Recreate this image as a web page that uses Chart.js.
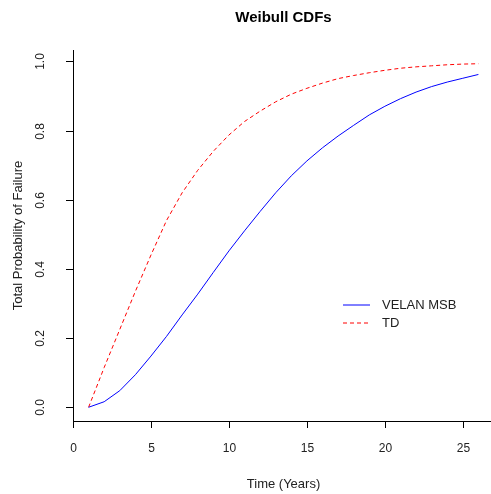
<!DOCTYPE html>
<html>
<head>
<meta charset="utf-8">
<script src="https://cdn.jsdelivr.net/npm/chart.js@4"></script>
<style>
  html, body { margin: 0; padding: 0; background: #fff; overflow: hidden; }
  #wrap { width: 491px; height: 494px; overflow: hidden; }
</style>
</head>
<body>
<div id="wrap"><canvas id="myChart" width="500" height="494"></canvas></div>
<script>
// data
const years = [1, 2, 3, 4, 5, 6, 7, 8, 9, 10, 11, 12, 13, 14, 15, 16, 17, 18, 19, 20, 21, 22, 23, 24, 25, 26];
const velanMSB = [0, 0.016, 0.048, 0.094, 0.148, 0.205, 0.267, 0.327, 0.39, 0.452, 0.51, 0.566, 0.62, 0.669,
    0.712, 0.75, 0.784, 0.815, 0.845, 0.87, 0.892, 0.911, 0.927, 0.94, 0.951, 0.962];
const td = [0, 0.115, 0.225, 0.335, 0.44, 0.54, 0.62, 0.685, 0.74, 0.787, 0.826, 0.856, 0.883, 0.905,
    0.922, 0.937, 0.95, 0.959, 0.967, 0.974, 0.98, 0.984, 0.987, 0.99, 0.992, 0.993];
const xTicks = [0, 5, 10, 15, 20, 25];
const yTicks = [0, 0.2, 0.4, 0.6, 0.8, 1.0];
const seriesNames = ['VELAN MSB', 'TD'];
const seriesColors = ['#0000ff', '#ff0000'];
const seriesDash = [[], [4, 3]];

const FONT = '"Liberation Sans", Arial, sans-serif';

// R-like axes, labels, title and legend
const rAxes = {
    id: 'rAxes',
    afterDraw(chart) {
        const ctx = chart.ctx;
        const xs = chart.scales.x, ys = chart.scales.y;
        const area = chart.chartArea;
        ctx.save();
        ctx.strokeStyle = '#000';
        ctx.lineWidth = 1;
        // L shaped box
        ctx.beginPath();
        ctx.moveTo(area.left + 0.5, area.top);
        ctx.lineTo(area.left + 0.5, area.bottom + 0.5);
        ctx.lineTo(area.right, area.bottom + 0.5);
        ctx.stroke();

        ctx.fillStyle = '#222';
        ctx.font = '12px ' + FONT;
        // x ticks
        ctx.textAlign = 'center';
        ctx.textBaseline = 'middle';
        xTicks.forEach(v => {
            const px = Math.round(xs.getPixelForValue(v)) + 0.5;
            ctx.beginPath();
            ctx.moveTo(px, area.bottom);
            ctx.lineTo(px, area.bottom + 7);
            ctx.stroke();
            ctx.fillText(String(v), px, 449);
        });
        // y ticks, rotated labels
        yTicks.forEach(v => {
            const py = Math.round(ys.getPixelForValue(v)) + 0.5;
            ctx.beginPath();
            ctx.moveTo(area.left, py);
            ctx.lineTo(area.left - 7, py);
            ctx.stroke();
            ctx.save();
            ctx.translate(41, py);
            ctx.rotate(-Math.PI / 2);
            ctx.fillText(v.toFixed(1), 0, 0);
            ctx.restore();
        });
        // axis titles
        ctx.font = '13px ' + FONT;
        ctx.fillText('Time (Years)', (xs.getPixelForValue(0) + xs.getPixelForValue(27)) / 2, 484);
        ctx.save();
        ctx.translate(18, (ys.getPixelForValue(-0.04) + ys.getPixelForValue(1.033)) / 2);
        ctx.rotate(-Math.PI / 2);
        ctx.fillText('Total Probability of Failure', 0, 0);
        ctx.restore();
        // title
        ctx.fillStyle = '#000';
        ctx.font = 'bold 15px ' + FONT;
        ctx.fillText('Weibull CDFs', (xs.getPixelForValue(0) + xs.getPixelForValue(27)) / 2, 18);

        // legend
        ctx.font = '13px ' + FONT;
        ctx.textAlign = 'left';
        seriesNames.forEach((name, i) => {
            const y = 305 + i * 18;
            ctx.strokeStyle = seriesColors[i];
            ctx.setLineDash(seriesDash[i]);
            ctx.beginPath();
            ctx.moveTo(343, y);
            ctx.lineTo(370, y);
            ctx.stroke();
            ctx.setLineDash([]);
            ctx.fillStyle = '#222';
            ctx.fillText(name, 382, y + 0.5);
        });
        ctx.restore();
    }
};

const ctx = document.getElementById('myChart').getContext('2d');
const myChart = new Chart(ctx, {
    type: 'line',
    data: {
        labels: years,
        datasets: [{
            label: seriesNames[0],
            data: years.map((x, i) => ({x: x, y: velanMSB[i]})),
            borderColor: seriesColors[0],
            borderWidth: 1,
            pointRadius: 0,
            tension: 0,
            fill: false
        }, {
            label: seriesNames[1],
            data: years.map((x, i) => ({x: x, y: td[i]})),
            borderColor: seriesColors[1],
            borderWidth: 1,
            borderDash: seriesDash[1],
            pointRadius: 0,
            tension: 0,
            fill: false
        }]
    },
    options: {
        responsive: false,
        animation: false,
        layout: {
            padding: {left: 73, right: 6, top: 50, bottom: 73}
        },
        plugins: {
            legend: {display: false},
            title: {display: false},
            tooltip: {enabled: false}
        },
        scales: {
            x: {type: 'linear', min: 0, max: 27, display: false},
            y: {type: 'linear', min: -0.0397, max: 1.0327, display: false}
        }
    },
    plugins: [rAxes]
});
</script>
</body>
</html>
